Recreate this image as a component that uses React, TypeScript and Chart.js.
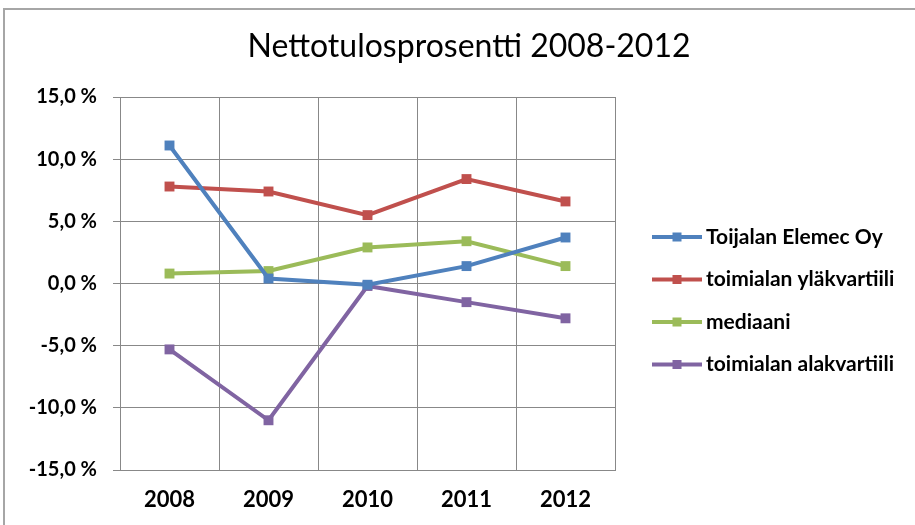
import React, { useEffect, useRef } from "react";
import { Chart, registerables } from "chart.js";

Chart.register(...registerables);

const years = ["2008", "2009", "2010", "2011", "2012"];
const seriesNames = [
  "Toijalan Elemec Oy",
  "toimialan yläkvartiili",
  "mediaani",
  "toimialan alakvartiili",
];
const elemec = [11.1, 0.4, -0.1, 1.4, 3.7];
const ylakvartiili = [7.8, 7.4, 5.5, 8.4, 6.6];
const mediaani = [0.8, 1.0, 2.9, 3.4, 1.4];
const alakvartiili = [-5.3, -11.0, -0.2, -1.5, -2.8];
const colors = ["#4F81BD", "#C0504D", "#9BBB59", "#8064A2"];
const yMin = -15;
const yMax = 15;
const yStep = 5;
const titleText = "Nettotulosprosentti 2008-2012";

const FONT = "Lato, 'Open Sans', sans-serif";

const decorations = {
  id: "decorations",
  afterDraw(chart: any) {
    const ctx = chart.ctx;
    ctx.save();
    // title
    ctx.fillStyle = "#000";
    ctx.font = `normal 32px ${FONT}`;
    ctx.textAlign = "center";
    ctx.textBaseline = "middle";
    ctx.fillText(chart.options.plugins.customTitle.text, 469, 47);
    // legend
    const startY = 237;
    const gap = 42.5;
    chart.data.datasets.forEach((ds: any, i: number) => {
      const y = startY + i * gap;
      ctx.strokeStyle = ds.borderColor;
      ctx.lineWidth = 4;
      ctx.beginPath();
      ctx.moveTo(652, y);
      ctx.lineTo(702, y);
      ctx.stroke();
      ctx.fillStyle = ds.borderColor;
      ctx.fillRect(677 - 4.5, y - 4.5, 9, 9);
      ctx.fillStyle = "#000";
      ctx.font = `bold 21px ${FONT}`;
      ctx.textBaseline = "middle";
      ctx.textAlign = "left";
      ctx.fillText(ds.label, 706, y);
    });
    ctx.restore();
  },
};

export default function App() {
  const ref = useRef<HTMLCanvasElement>(null);
  useEffect(() => {
    if (!ref.current) return;
    const data = [elemec, ylakvartiili, mediaani, alakvartiili];
    const chart = new Chart(ref.current, {
      type: "line",
      data: {
        labels: years,
        datasets: data.map((d, i) => ({
          label: seriesNames[i],
          data: d,
          borderColor: colors[i],
          backgroundColor: colors[i],
          borderWidth: 4,
          pointStyle: "rect",
          pointRadius: 7,
          pointBorderWidth: 0,
          tension: 0,
        })),
      },
      options: {
        animation: false,
        responsive: false,
        layout: { padding: { left: 0, right: 300, top: 97, bottom: 0 } },
        plugins: {
          legend: { display: false },
          tooltip: { enabled: false },
          title: { display: false },
          customTitle: { text: titleText },
        } as any,
        scales: {
          x: {
            offset: true,
            grid: {
              offset: true,
              color: "#888",
              lineWidth: 1,
              tickLength: 0,
              drawTicks: false,
            },
            border: { color: "#888", width: 1 },
            ticks: {
              color: "#000",
              font: { family: FONT, size: 22, weight: "bold" },
              padding: 17,
            },
            afterFit: (s: any) => {
              s.height = 55;
            },
          },
          y: {
            min: yMin,
            max: yMax,
            grid: { color: "#888", lineWidth: 1, tickLength: 7 },
            border: { color: "#888", width: 1 },
            ticks: {
              stepSize: yStep,
              color: "#000",
              padding: 16,
              font: { family: FONT, size: 20, weight: "bold" },
              callback: (v: any) =>
                Number(v).toFixed(1).replace(".", ",") + " %",
            },
            afterFit: (s: any) => {
              s.width = 120;
            },
          },
        },
      },
      plugins: [decorations],
    });
    return () => chart.destroy();
  }, []);
  return (
    <div
      style={{
        position: "fixed",
        left: 0,
        top: 0,
        width: 915,
        height: 525,
        overflow: "hidden",
        background: "#fff",
      }}
    >
      <div
        style={{
          position: "absolute",
          left: 3,
          top: 8,
          width: 960,
          height: 600,
          border: "2px solid #a6a6a6",
          boxSizing: "border-box",
        }}
      />
      <canvas
        ref={ref}
        width={915}
        height={525}
        style={{ position: "absolute", left: 0, top: 0 }}
      />
    </div>
  );
}
